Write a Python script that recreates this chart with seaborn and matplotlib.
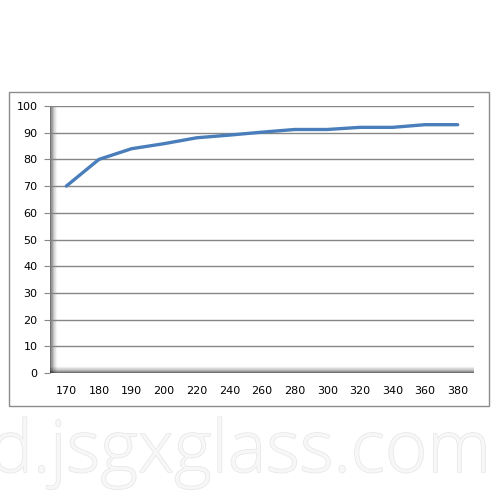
import matplotlib
matplotlib.use("Agg")
import matplotlib.pyplot as plt
import matplotlib.patheffects as pe
from matplotlib.patches import Rectangle
import seaborn as sns
import pandas as pd
import numpy as np

# dane z wykresu
kategorie = ["170", "180", "190", "200", "220", "240", "260", "280", "300", "320", "340", "360", "380"]
wartosci = [70, 80, 84, 85.9, 88.1, 89.1, 90.2, 91.2, 91.2, 92, 92, 93, 93]
y_ticks = [0, 10, 20, 30, 40, 50, 60, 70, 80, 90, 100]

sns.set_style("white")
plt.rcParams['font.family'] = ['DejaVu Sans']

df = pd.DataFrame({"kat": kategorie, "wart": wartosci})

fig = plt.figure(figsize=(5, 5), dpi=100)
fig.patch.set_facecolor("white")

# znak wodny (pod wykresem)
fig.text(-0.02, 1 - 472 / 500, "d.jsgxglass.com", fontsize=52,
         family=["Open Sans", "DejaVu Sans"], fontweight="light",
         color="#f7f7f7",
         path_effects=[pe.withStroke(linewidth=1.0, foreground="#e6e6e6")],
         ha="left", va="baseline", zorder=0)

# ramka wykresu
fig.patches.append(Rectangle((9 / 500, 1 - 406 / 500), 480 / 500, 314 / 500,
                             transform=fig.transFigure, fill=False,
                             edgecolor="#8c8c8c", linewidth=1.0, zorder=0))

ax = fig.add_axes([50 / 500, 1 - 373 / 500, 424 / 500, 267 / 500])
ax.set_facecolor("white")

# cienie sciany i podlogi
n = 12
for i in range(n):
    a = 0.55 * (1 - i / n) ** 1.5
    ax.add_patch(Rectangle((i * 7.5 / 424 / n, 0), 7.5 / 424 / n, 1,
                           transform=ax.transAxes, color="black", alpha=a,
                           linewidth=0, zorder=1))
    ax.add_patch(Rectangle((0, i * 7 / 267 / n), 1, 7 / 267 / n,
                           transform=ax.transAxes, color="black", alpha=a,
                           linewidth=0, zorder=1))

for y in y_ticks[1:]:
    ax.axhline(y, color="#868686", linewidth=1.0, zorder=2)

sns.lineplot(data=df, x="kat", y="wart", ax=ax, color="#4a7ebb",
             linewidth=2.4, zorder=3, sort=False)

ax.set_xlim(-0.5, len(kategorie) - 0.5)
ax.set_ylim(0, 100)
ax.set_yticks(y_ticks)
ax.set_yticklabels([str(v) for v in y_ticks], fontsize=8, color="black")
ax.set_xticks(range(len(kategorie)))
ax.set_xticklabels(kategorie, fontsize=8, color="black")
ax.set_xticks(np.arange(-0.5, len(kategorie), 1), minor=True)
ax.tick_params(axis="x", which="major", length=0, pad=9)
ax.tick_params(axis="x", which="minor", length=4, color="#868686", direction="out")
ax.tick_params(axis="y", length=4, color="#868686", direction="out", pad=5, left=True)
ax.set_xlabel("")
ax.set_ylabel("")
for s in ax.spines.values():
    s.set_visible(False)

fig.savefig("out.png", dpi=100, facecolor="white")
